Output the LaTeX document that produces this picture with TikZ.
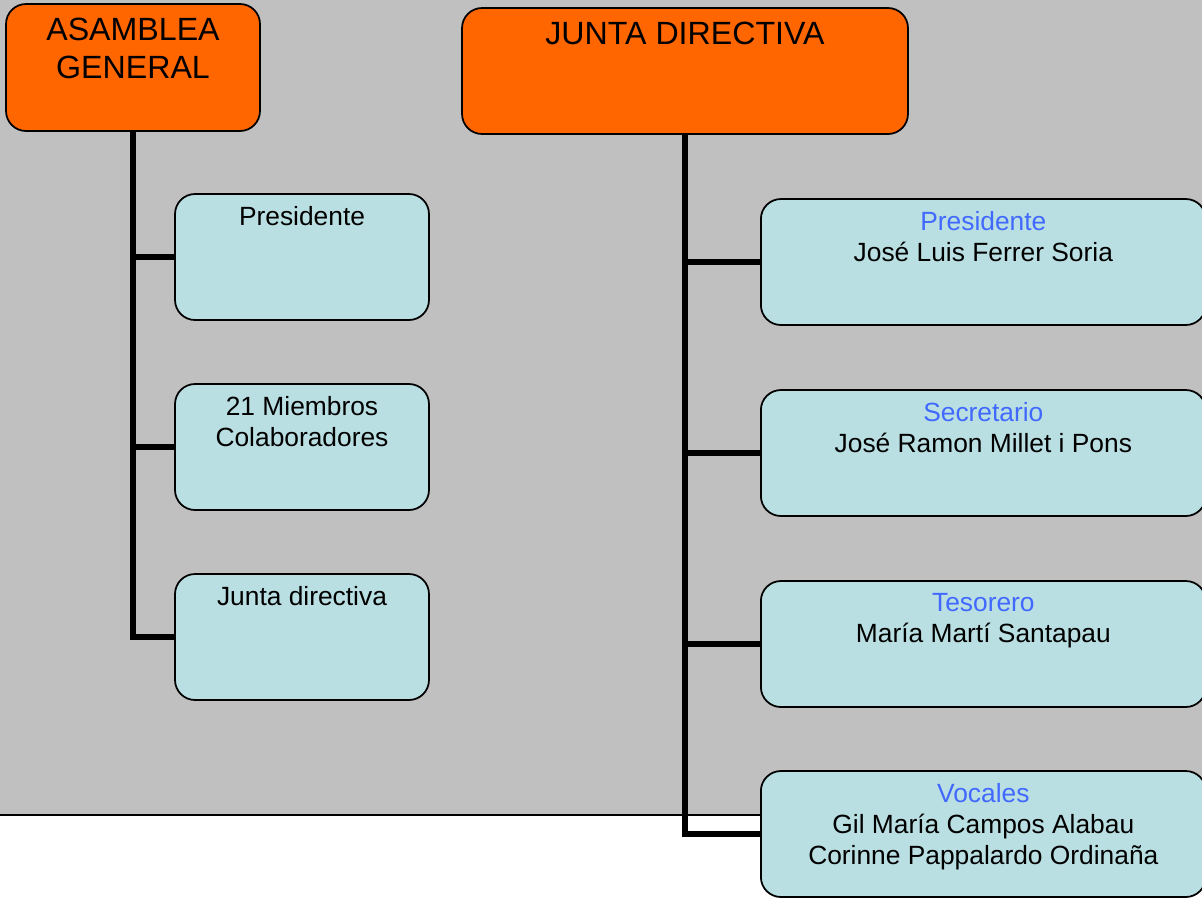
\documentclass[tikz,border=0pt]{standalone}
\usepackage{fontspec}
\setmainfont{Liberation Sans}
\usepackage{xcolor}
\definecolor{naranja}{HTML}{FF6600}
\definecolor{celeste}{HTML}{B9DFE2}
\definecolor{fondo}{HTML}{C0C0C0}
\definecolor{azulcargo}{HTML}{4169FF}

\begin{document}
\begin{tikzpicture}[x=0.02cm,y=-0.02cm,
  cabecera/.style={draw=black,line width=1pt,fill=naranja,rounded corners=0.4cm,inner sep=0},
  caja/.style={draw=black,line width=1pt,fill=celeste,rounded corners=0.4cm,inner sep=0,
    minimum width=5.08cm,minimum height=2.52cm},
  cajader/.style={caja,minimum width=8.9cm},
  titulo/.style={anchor=north,inner sep=0,align=center,font=\fontsize{18.3}{21.2}\selectfont},
  texto/.style={anchor=north,inner sep=0,align=center,font=\fontsize{15}{17.6}\selectfont},
  rama/.style={line width=3pt}]
\clip (0,0) rectangle (1202,897);
% background
\fill[fondo] (0,0) rectangle (1202,815);
\draw[line width=1.4pt] (0,815) -- (1202,815);
% heads
\node[cabecera,minimum width=5.08cm,minimum height=2.54cm] (ag) at (133,67.5) {};
\node[cabecera,minimum width=8.92cm,minimum height=2.52cm] (jd) at (685,71) {};
\node[titulo] (agt) at ([yshift=-0.3cm]ag.north) {ASAMBLEA\\GENERAL};
\node[titulo] (jdt) at ([yshift=-0.29cm]jd.north) {JUNTA DIRECTIVA};
% left boxes
\node[caja] (lb1) at (302,257) {};
\node[caja] (lb2) at (302,447) {};
\node[caja] (lb3) at (302,637) {};
\node[texto] at ([yshift=-0.26cm]lb1.north) {Presidente};
\node[texto] at ([yshift=-0.26cm]lb2.north) {21 Miembros\\Colaboradores};
\node[texto] at ([yshift=-0.26cm]lb3.north) {Junta directiva};
% left branches
\draw[rama] (ag.south) |- (lb3.west);
\draw[rama] (ag.south |- lb1.west) -- (lb1.west);
\draw[rama] (ag.south |- lb2.west) -- (lb2.west);
% right branches
\draw[rama] (jd.south) |- (760,834) coordinate (vb);
\draw[rama] (jd.south |- 0,262) -- (760,262);
\draw[rama] (jd.south |- 0,453) -- (760,453);
\draw[rama] (jd.south |- 0,644) -- (760,644);
% right boxes
\node[cajader,anchor=west] (rb1) at (760,262) {};
\node[cajader,anchor=west] (rb2) at (760,453) {};
\node[cajader,anchor=west] (rb3) at (760,644) {};
\node[cajader,anchor=west] (rb4) at (760,834) {};
\node[texto] at ([yshift=-0.26cm]rb1.north) {\textcolor{azulcargo}{Presidente}\\José Luis Ferrer Soria};
\node[texto] at ([yshift=-0.26cm]rb2.north) {\textcolor{azulcargo}{Secretario}\\José Ramon Millet i Pons};
\node[texto] at ([yshift=-0.26cm]rb3.north) {\textcolor{azulcargo}{Tesorero}\\María Martí Santapau};
\node[texto] at ([yshift=-0.26cm]rb4.north) {\textcolor{azulcargo}{Vocales}\\Gil María Campos Alabau\\Corinne Pappalardo Ordinaña};
\end{tikzpicture}
\end{document}
